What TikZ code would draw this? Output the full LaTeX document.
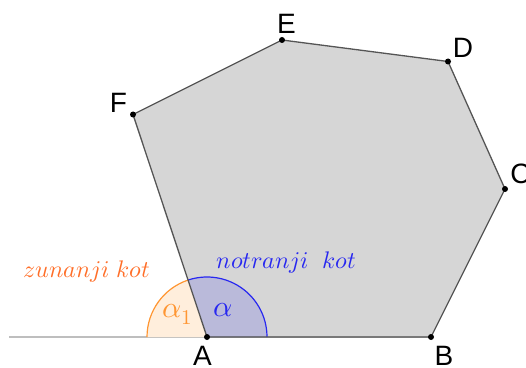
\documentclass[tikz,border=0pt]{standalone}
\usepackage{unicode-math}
\setsansfont{Liberation Sans}
\setmathfont{Latin Modern Math}
\definecolor{polyfill}{RGB}{214,214,214}
\definecolor{polyedge}{RGB}{85,85,85}
\definecolor{groundline}{RGB}{190,190,190}
\definecolor{extcol}{RGB}{255,110,40}
\definecolor{extarc}{RGB}{255,150,50}
\definecolor{extfill}{RGB}{255,238,220}
\definecolor{intcol}{RGB}{40,40,240}
\tikzset{
  vertex/.style={circle,fill=black,inner sep=0pt,minimum size=6pt},
  vlabel/.style={font=\sffamily\fontsize{28}{32}\selectfont,inner sep=0pt},
  klabel/.style={font=\fontsize{24}{28}\selectfont,inner sep=0pt,anchor=base},
  alabel/.style={font=\fontsize{30}{34}\selectfont,inner sep=0pt,anchor=base west}
}
\begin{document}
\begin{tikzpicture}[x=1pt,y=1pt]
    \useasboundingbox (0,0) rectangle (526,367);
    % oglisca
    \coordinate (A) at (207,30);
    \coordinate (B) at (431,30);
    \coordinate (C) at (505,178);
    \coordinate (D) at (448,305.5);
    \coordinate (E) at (282,327);
    \coordinate (F) at (133,252.5);
    \coordinate (G) at (9,30);
    % mnogokotnik
    \fill[polyfill] (A) -- (B) -- (C) -- (D) -- (E) -- (F) -- cycle;
    % premica
    \draw[groundline,line width=1.5pt] (G) -- (B);
    % zunanji kot
    \fill[extfill] (A) -- ++(108.4:60) arc[start angle=108.4,end angle=180,radius=60] -- cycle;
    \draw[extarc,line width=1.2pt] (A) ++(108.4:60) arc[start angle=108.4,end angle=180,radius=60];
    % notranji kot
    \fill[intcol,opacity=0.16] (A) -- ++(0:60) arc[start angle=0,end angle=108.4,radius=60] -- cycle;
    \draw[intcol,line width=1.2pt] (A) ++(0:60) arc[start angle=0,end angle=108.4,radius=60];
    % robovi
    \draw[polyedge,line width=1.3pt,line join=round] (A) -- (B) -- (C) -- (D) -- (E) -- (F) -- cycle;
    % tocke
    \foreach \p in {A,B,C,D,E,F}
      \node[vertex] (dot\p) at (\p) {};
    \node[vlabel] (labA) at (202.5,11) {A};
    \node[vlabel] (labB) at (444,11) {B};
    \node[vlabel] (labC) at (520.5,193.5) {C};
    \node[vlabel] (labD) at (463,319.5) {D};
    \node[vlabel] (labE) at (286.5,343) {E};
    \node[vlabel] (labF) at (118.5,264) {F};
    % oznake kotov
    \node[klabel,text=extcol] (zun) at (87,90) {$zunanji\ kot$};
    \node[klabel,text=intcol] (notr) at (286.5,99) {$notranji\ \ kot$};
    \node[alabel,text=extarc] (alf1) at (162,50) {$\alpha_1$};
    \node[alabel,text=intcol] (alf) at (213,51) {$\alpha$};
\end{tikzpicture}
\end{document}
